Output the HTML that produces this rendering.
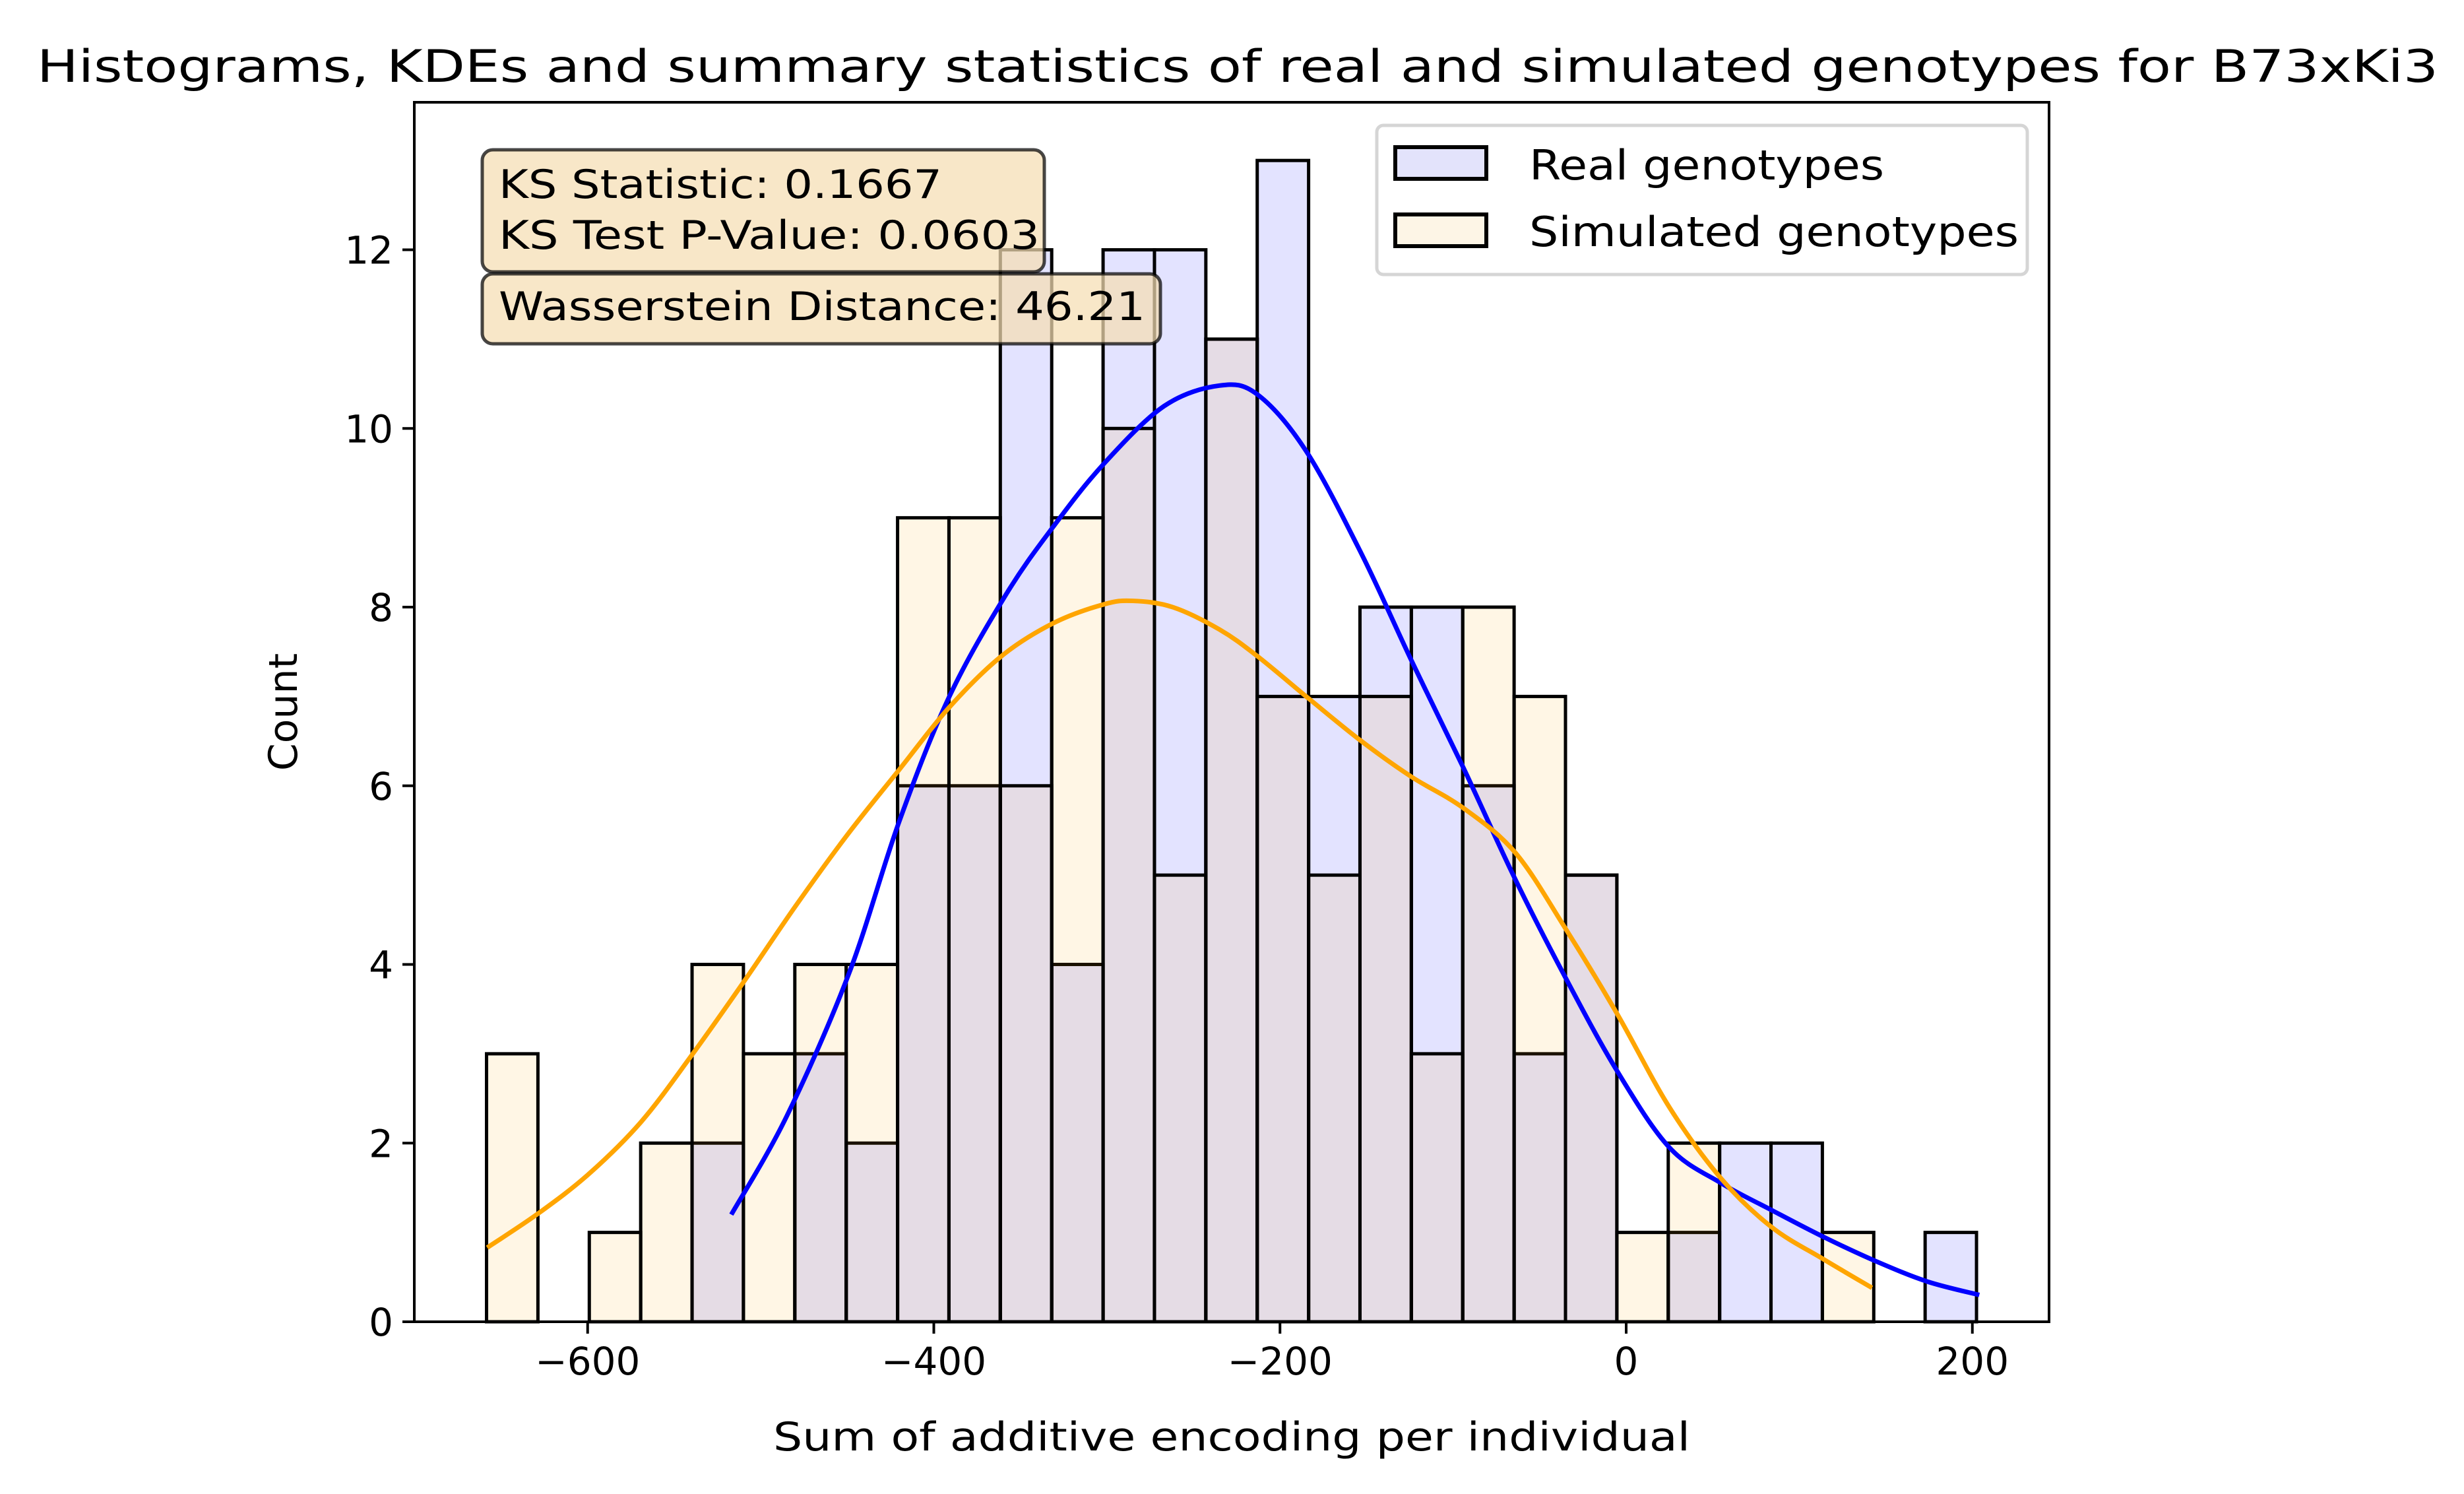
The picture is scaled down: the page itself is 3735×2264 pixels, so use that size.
<!DOCTYPE html>
<html><head><meta charset="utf-8"><style>
html,body{margin:0;padding:0;background:#fff}
svg{display:block}
text{font-family:"DejaVu Sans","Liberation Sans",sans-serif;fill:#000}
</style></head><body>
<svg id="chart" width="3735" height="2264" viewBox="0 0 3735 2264">
<rect width="3735" height="2264" fill="#fff"/>
<text x="1876" y="124" font-size="68" text-anchor="middle" textLength="3640" lengthAdjust="spacingAndGlyphs">Histograms, KDEs and summary statistics of real and simulated genotypes for B73xKi3</text>
<g id="bars"></g>
<g id="kdes"></g>
<g id="axes"></g>
<g>
<rect x="731" y="227" width="852" height="185" rx="16" fill="rgba(245,222,179,0.72)" stroke="rgba(0,0,0,0.72)" stroke-width="5"/>
<text x="756" y="300" font-size="60" textLength="672" lengthAdjust="spacingAndGlyphs">KS Statistic: 0.1667</text>
<text x="756" y="377" font-size="60" textLength="820" lengthAdjust="spacingAndGlyphs">KS Test P-Value: 0.0603</text>
<rect x="731" y="415" width="1028" height="106" rx="16" fill="rgba(245,222,179,0.72)" stroke="rgba(0,0,0,0.72)" stroke-width="5"/>
<text x="756" y="485" font-size="60" textLength="980" lengthAdjust="spacingAndGlyphs">Wasserstein Distance: 46.21</text>
</g>
<g>
<rect x="2087" y="190" width="986" height="226" rx="10" fill="rgba(255,255,255,0.8)" stroke="#d5d5d5" stroke-width="5"/>
<rect x="2115" y="223" width="138" height="48" fill="#e3e3fb" stroke="#000" stroke-width="6"/>
<text x="2318" y="272" font-size="62" textLength="538" lengthAdjust="spacingAndGlyphs">Real genotypes</text>
<rect x="2115" y="325" width="138" height="48" fill="#fdf5e6" stroke="#000" stroke-width="6"/>
<text x="2318" y="373" font-size="62" textLength="742" lengthAdjust="spacingAndGlyphs">Simulated genotypes</text>
</g>
</svg>
<script>
const binStart = -658.4;
const binEnd = 202.4;
const realCounts = [0,0,0,0,2,0,3,2,6,6,12,4,12,12,11,13,7,8,8,6,3,5,0,1,2,2,0,0,1];
const simCounts  = [3,0,1,2,4,3,4,4,9,9,6,9,10,5,11,7,5,7,3,8,7,5,1,2,0,0,1,0,0];
const realKdeX = [-517,-485,-449,-420,-391,-358,-331,-302,-267,-235,-213,-185,-153,-124,-94,-64,-35,-5,25,55,84,114,144,174,204];
const realKdeY = [1.2,2.3,3.9,5.6,7.0,8.15,8.9,9.6,10.25,10.48,10.38,9.75,8.6,7.4,6.2,4.95,3.85,2.8,1.95,1.55,1.25,0.95,0.68,0.45,0.3];
const simKdeX = [-658,-628,-599,-569,-540,-510,-480,-450,-420,-391,-361,-331,-302,-285,-262,-235,-213,-183,-153,-124,-94,-64,-35,-5,25,55,84,114,142];
const simKdeY = [0.83,1.22,1.66,2.24,2.98,3.8,4.65,5.45,6.18,6.88,7.45,7.82,8.03,8.07,8.0,7.75,7.45,6.97,6.5,6.1,5.75,5.25,4.4,3.44,2.4,1.6,1.06,0.7,0.38];
const xTicks = [-600,-400,-200,0,200];
const yTicks = [0,2,4,6,8,10,12];

const NS = 'http://www.w3.org/2000/svg';
const L = 628, R = 3106, T = 155, B = 2003;
const xs = v => 2465 + v * 2.62375;
const ys = v => B - v * 135.37;
function mk(tag, attrs, parent){const e=document.createElementNS(NS,tag);for(const k in attrs)e.setAttribute(k,attrs[k]);parent.appendChild(e);return e;}

const bars = document.getElementById('bars');
const w = (binEnd - binStart) / realCounts.length;
function drawBars(counts, fill, name){
  counts.forEach((c,i)=>{
    if(c<=0) return;
    const x0 = xs(binStart + i*w), x1 = xs(binStart + (i+1)*w);
    const r = mk('rect',{x:x0,y:ys(c),width:x1-x0,height:ys(0)-ys(c),fill:fill,stroke:'#000','stroke-width':5},bars);
    
    
  });
}
drawBars(realCounts,'rgba(0,0,255,0.11)','real');
drawBars(simCounts,'rgba(255,165,0,0.10)','simulated');

const kdes = document.getElementById('kdes');
function smoothPath(X,Y){
  const p = X.map((x,i)=>[xs(x),ys(Y[i])]);
  let d = 'M'+p[0][0]+','+p[0][1];
  for(let i=0;i<p.length-1;i++){
    const p0=p[Math.max(0,i-1)],p1=p[i],p2=p[i+1],p3=p[Math.min(p.length-1,i+2)];
    const c1=[p1[0]+(p2[0]-p0[0])/6,p1[1]+(p2[1]-p0[1])/6];
    const c2=[p2[0]-(p3[0]-p1[0])/6,p2[1]-(p3[1]-p1[1])/6];
    d+=' C'+c1[0]+','+c1[1]+' '+c2[0]+','+c2[1]+' '+p2[0]+','+p2[1];
  }
  return d;
}
const k1 = mk('path',{d:smoothPath(realKdeX,realKdeY),fill:'none',stroke:'#0000ff','stroke-width':7,'stroke-linejoin':'round'},kdes);


const k2 = mk('path',{d:smoothPath(simKdeX,simKdeY),fill:'none',stroke:'#ffa500','stroke-width':7,'stroke-linejoin':'round'},kdes);



const axes = document.getElementById('axes');
const frame = mk('rect',{x:L,y:T,width:R-L,height:B-T,fill:'none',stroke:'#000','stroke-width':4},axes);


xTicks.forEach(v=>{
  const tk = mk('line',{x1:xs(v),x2:xs(v),y1:B,y2:B+18,stroke:'#000','stroke-width':4},axes);
  
  
  const t = mk('text',{x:xs(v),y:B+80,'font-size':58,'text-anchor':'middle'},axes);
  t.textContent = v<0 ? '\u2212'+Math.abs(v) : String(v);
  
  
});
yTicks.forEach(v=>{
  const tk = mk('line',{x1:L-18,x2:L,y1:ys(v),y2:ys(v),stroke:'#000','stroke-width':4},axes);
  
  
  const t = mk('text',{x:L-32,y:ys(v)+21,'font-size':58,'text-anchor':'end'},axes);
  t.textContent = String(v);
  
  
});
const xl = mk('text',{x:(L+R)/2,y:2198,'font-size':60,'text-anchor':'middle',textLength:1390,lengthAdjust:'spacingAndGlyphs'},axes);
xl.textContent = 'Sum of additive encoding per individual';


const yl = mk('text',{x:0,y:0,'font-size':60,'text-anchor':'middle',transform:'translate(450,1079) rotate(-90)'},axes);
yl.textContent = 'Count';


</script>
</body></html>
